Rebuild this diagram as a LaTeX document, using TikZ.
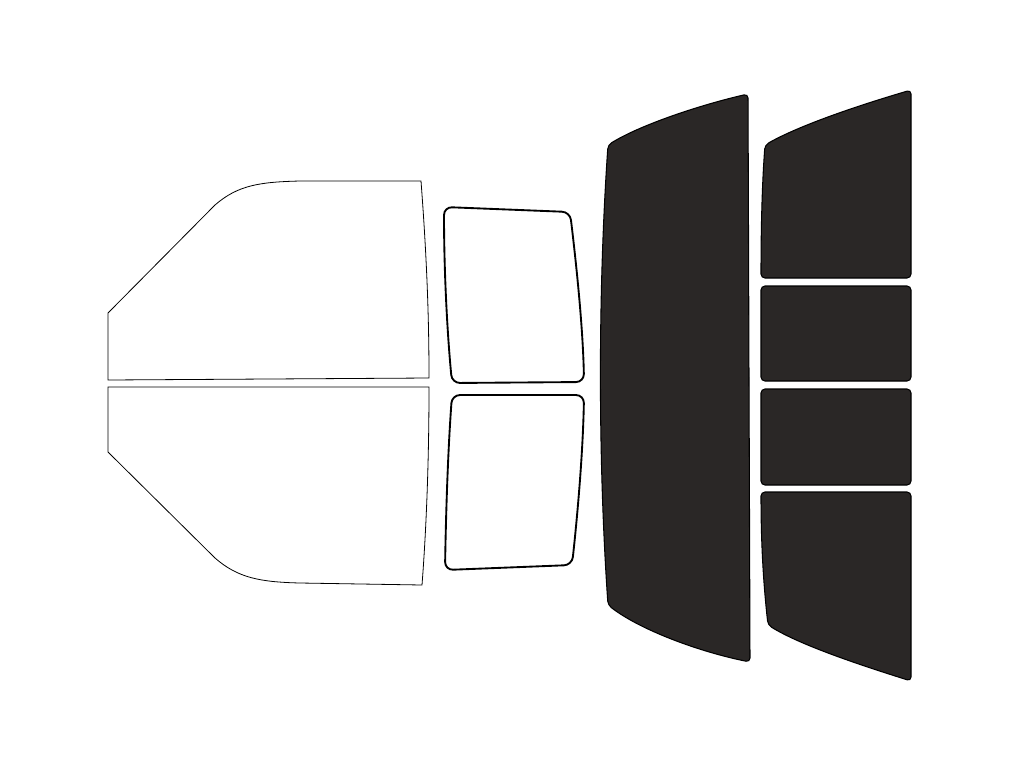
\documentclass[tikz,border=0pt]{standalone}
\definecolor{tint}{RGB}{42,39,38}
\begin{document}
\begin{tikzpicture}[x=0.75pt,y=-0.75pt,
  clear/.style={draw=black,line width=0.6pt,fill=white},
  clearb/.style={draw=black,line width=1.4pt,fill=white,rounded corners=6pt},
  dark/.style={draw=black,line width=0.8pt,fill=tint,rounded corners=3pt}]
\useasboundingbox (0,0) rectangle (1024,768);
% front doors
\draw[clear] (108,313) -- (215,205) .. controls (238,185) and (260,182) .. (300,181) -- (421,181) .. controls (427,260) and (429,320) .. (429,378) -- (108,380) -- cycle;
\draw[clear] (108,387) -- (429,387) .. controls (429,450) and (427,520) .. (422,585) -- (300,583) .. controls (260,582) and (238,578) .. (215,558) -- (108,452) -- cycle;
% rear doors
\draw[clearb] (518,382.5) -- (452,383) .. controls (447,330) and (444,270) .. (444,207) -- (570,212) .. controls (577,270) and (583,330) .. (584,382) -- cycle;
\draw[clearb] (518,395) -- (584,395) .. controls (583,450) and (578,510) .. (572,565) -- (445,570) .. controls (446,510) and (448,450) .. (452,395) -- cycle;
% big dark
\draw[dark] (749,380) -- (750,662) .. controls (700,652) and (640,630) .. (608,605) .. controls (598,460) and (598,290) .. (608,145) .. controls (640,125) and (700,105) .. (748,94) -- cycle;
% right column
\draw[dark] (911,200) -- (911,278) -- (761,278) .. controls (761,230) and (762,185) .. (765,145) .. controls (800,125) and (860,105) .. (911,90) -- cycle;
\draw[dark] (761,286) rectangle (911,381);
\draw[dark] (761,389) rectangle (911,485);
\draw[dark] (911,580) -- (911,681) .. controls (860,665) and (800,645) .. (768,625) .. controls (763,580) and (761,540) .. (761,492) -- (911,492) -- cycle;
\end{tikzpicture}
\end{document}
